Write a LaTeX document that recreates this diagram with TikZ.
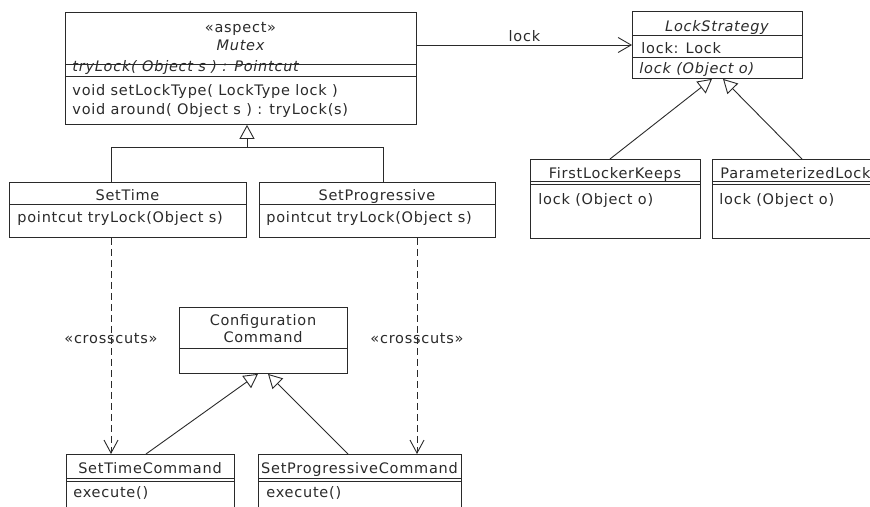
\documentclass[tikz,border=0pt]{standalone}
\usepackage{fontspec}
\setmainfont[LetterSpace=5.1]{DejaVu Sans}
\usetikzlibrary{arrows.meta,calc}
\definecolor{ink}{HTML}{2A2A2A}
\begin{document}
\begin{tikzpicture}[x=1pt,y=-1pt,line width=0.9pt,draw=ink,
  font=\fontsize{14.5}{18}\selectfont,
  cls/.style={draw=ink,rectangle,inner sep=0pt,anchor=north west},
  txt/.style={inner sep=0pt,text=ink,anchor=base},
  ltxt/.style={inner sep=0pt,text=ink,anchor=base west},
  itx/.style={font=\fontsize{14.5}{18}\selectfont\itshape},
  gen/.style={draw=ink,-{Triangle[length=14pt,width=15pt,fill=white]}},
  dep/.style={draw=ink,dash pattern=on 7pt off 4pt,-{Straight Barb[length=13pt,width=14pt]}},
  assoc/.style={draw=ink,-{Straight Barb[length=13pt,width=15pt]}}]
\useasboundingbox (0,0) rectangle (870,506);
\clip (0,0) rectangle (870,506);

% ---------- boxes ----------
\node[cls,minimum width=351pt,minimum height=112pt] (mutex) at (65,12) {};
\node[cls,minimum width=170pt,minimum height=67pt] (lockstrat) at (632,11) {};
\node[cls,minimum width=237pt,minimum height=55pt] (settime) at (9,182) {};
\node[cls,minimum width=236pt,minimum height=55pt] (setprog) at (259,182) {};
\node[cls,minimum width=170pt,minimum height=79pt] (flk) at (530,159) {};
\node[cls,minimum width=170pt,minimum height=79pt] (plock) at (712,159) {};
\node[cls,minimum width=168pt,minimum height=66pt] (config) at (179,307) {};
\node[cls,minimum width=168pt,minimum height=70pt] (stc) at (66,454) {};
\node[cls,minimum width=203pt,minimum height=70pt] (spc) at (258,454) {};

% ---------- compartment lines ----------
\draw ($(mutex.north west)+(0,52)$) -- ($(mutex.north east)+(0,52)$);
\draw ($(mutex.north west)+(0,64)$) -- ($(mutex.north east)+(0,64)$);
\draw ($(lockstrat.north west)+(0,24)$) -- ($(lockstrat.north east)+(0,24)$);
\draw ($(lockstrat.north west)+(0,46)$) -- ($(lockstrat.north east)+(0,46)$);
\draw ($(settime.north west)+(0,22)$) -- ($(settime.north east)+(0,22)$);
\draw ($(setprog.north west)+(0,22)$) -- ($(setprog.north east)+(0,22)$);
\draw ($(flk.north west)+(0,22.5)$) -- ($(flk.north east)+(0,22.5)$);
\draw ($(flk.north west)+(0,25.5)$) -- ($(flk.north east)+(0,25.5)$);
\draw ($(plock.north west)+(0,22.5)$) -- ($(plock.north east)+(0,22.5)$);
\draw ($(plock.north west)+(0,25.5)$) -- ($(plock.north east)+(0,25.5)$);
\draw ($(config.north west)+(0,41)$) -- ($(config.north east)+(0,41)$);
\draw ($(stc.north west)+(0,24)$) -- ($(stc.north east)+(0,24)$);
\draw ($(stc.north west)+(0,27)$) -- ($(stc.north east)+(0,27)$);
\draw ($(spc.north west)+(0,24)$) -- ($(spc.north east)+(0,24)$);
\draw ($(spc.north west)+(0,27)$) -- ($(spc.north east)+(0,27)$);

% ---------- texts ----------
\node[txt] (mutexst) at (240.5,32) {«aspect»};
\node[txt,itx] (mutexname) at (240.5,50) {Mutex};
\node[ltxt,itx] (mutexpc) at (72,71) {tryLock( Object s ) : Pointcut};
\node[ltxt] (mutexop1) at (72,95) {void setLockType( LockType lock )};
\node[ltxt] (mutexop2) at (72,114) {void around( Object s ) : tryLock(s)};

\node[txt,itx] (lsname) at (717,31) {LockStrategy};
\node[ltxt] (lsattr) at (641,53) {lock: Lock};
\node[ltxt,itx] (lsop) at (639,73) {lock (Object o)};

\node[txt] (stname) at (127.5,200) {SetTime};
\node[ltxt] (stpc) at (17,222) {pointcut tryLock(Object s)};
\node[txt] (spname) at (377,200) {SetProgressive};
\node[ltxt] (sppc) at (266,222) {pointcut tryLock(Object s)};

\node[txt] (flkname) at (615,178) {FirstLockerKeeps};
\node[ltxt] (flkop) at (538,204) {lock (Object o)};
\node[ltxt] (plname) at (720,178) {ParameterizedLock};
\node[ltxt] (plop) at (719,204) {lock (Object o)};

\node[txt] (cfg1) at (263,325) {Configuration};
\node[txt] (cfg2) at (263,342) {Command};

\node[txt] (stcname) at (150,473) {SetTimeCommand};
\node[ltxt] (stcop) at (73,497) {execute()};
\node[txt] (spcname) at (359.5,473) {SetProgressiveCommand};
\node[ltxt] (spcop) at (266,497) {execute()};

% ---------- connectors ----------
\coordinate (j1) at ($(mutex.south west)+(182,23)$);
\draw ($(settime.north west)+(102,0)$) |- (j1) -| ($(setprog.north west)+(124,0)$);
\draw[gen] (j1) -- ($(mutex.south west)+(182,0)$);

\draw[assoc] ($(mutex.north east)+(0,33)$) -- ($(lockstrat.north west)+(0,34)$)
  node[midway,above=3pt,inner sep=0pt,text=ink] (locklbl) {lock};

\draw[gen] ($(flk.north west)+(80,0)$) -- ($(lockstrat.south west)+(80,0)$);
\draw[gen] ($(plock.north west)+(90,0)$) -- ($(lockstrat.south west)+(91,0)$);

\draw[dep] ($(settime.south west)+(102,0)$) -- ($(stc.north west)+(45,0)$)
  node[pos=0.465,inner sep=0pt,text=ink] (cc1) {«crosscuts»};
\draw[dep] ($(setprog.south west)+(158,0)$) -- ($(spc.north west)+(159,0)$)
  node[pos=0.465,inner sep=0pt,text=ink] (cc2) {«crosscuts»};

\draw[gen] ($(stc.north west)+(80,0)$) -- ($(config.south west)+(79,0)$);
\draw[gen] ($(spc.north west)+(90,0)$) -- ($(config.south west)+(89,0)$);
\end{tikzpicture}
\end{document}
